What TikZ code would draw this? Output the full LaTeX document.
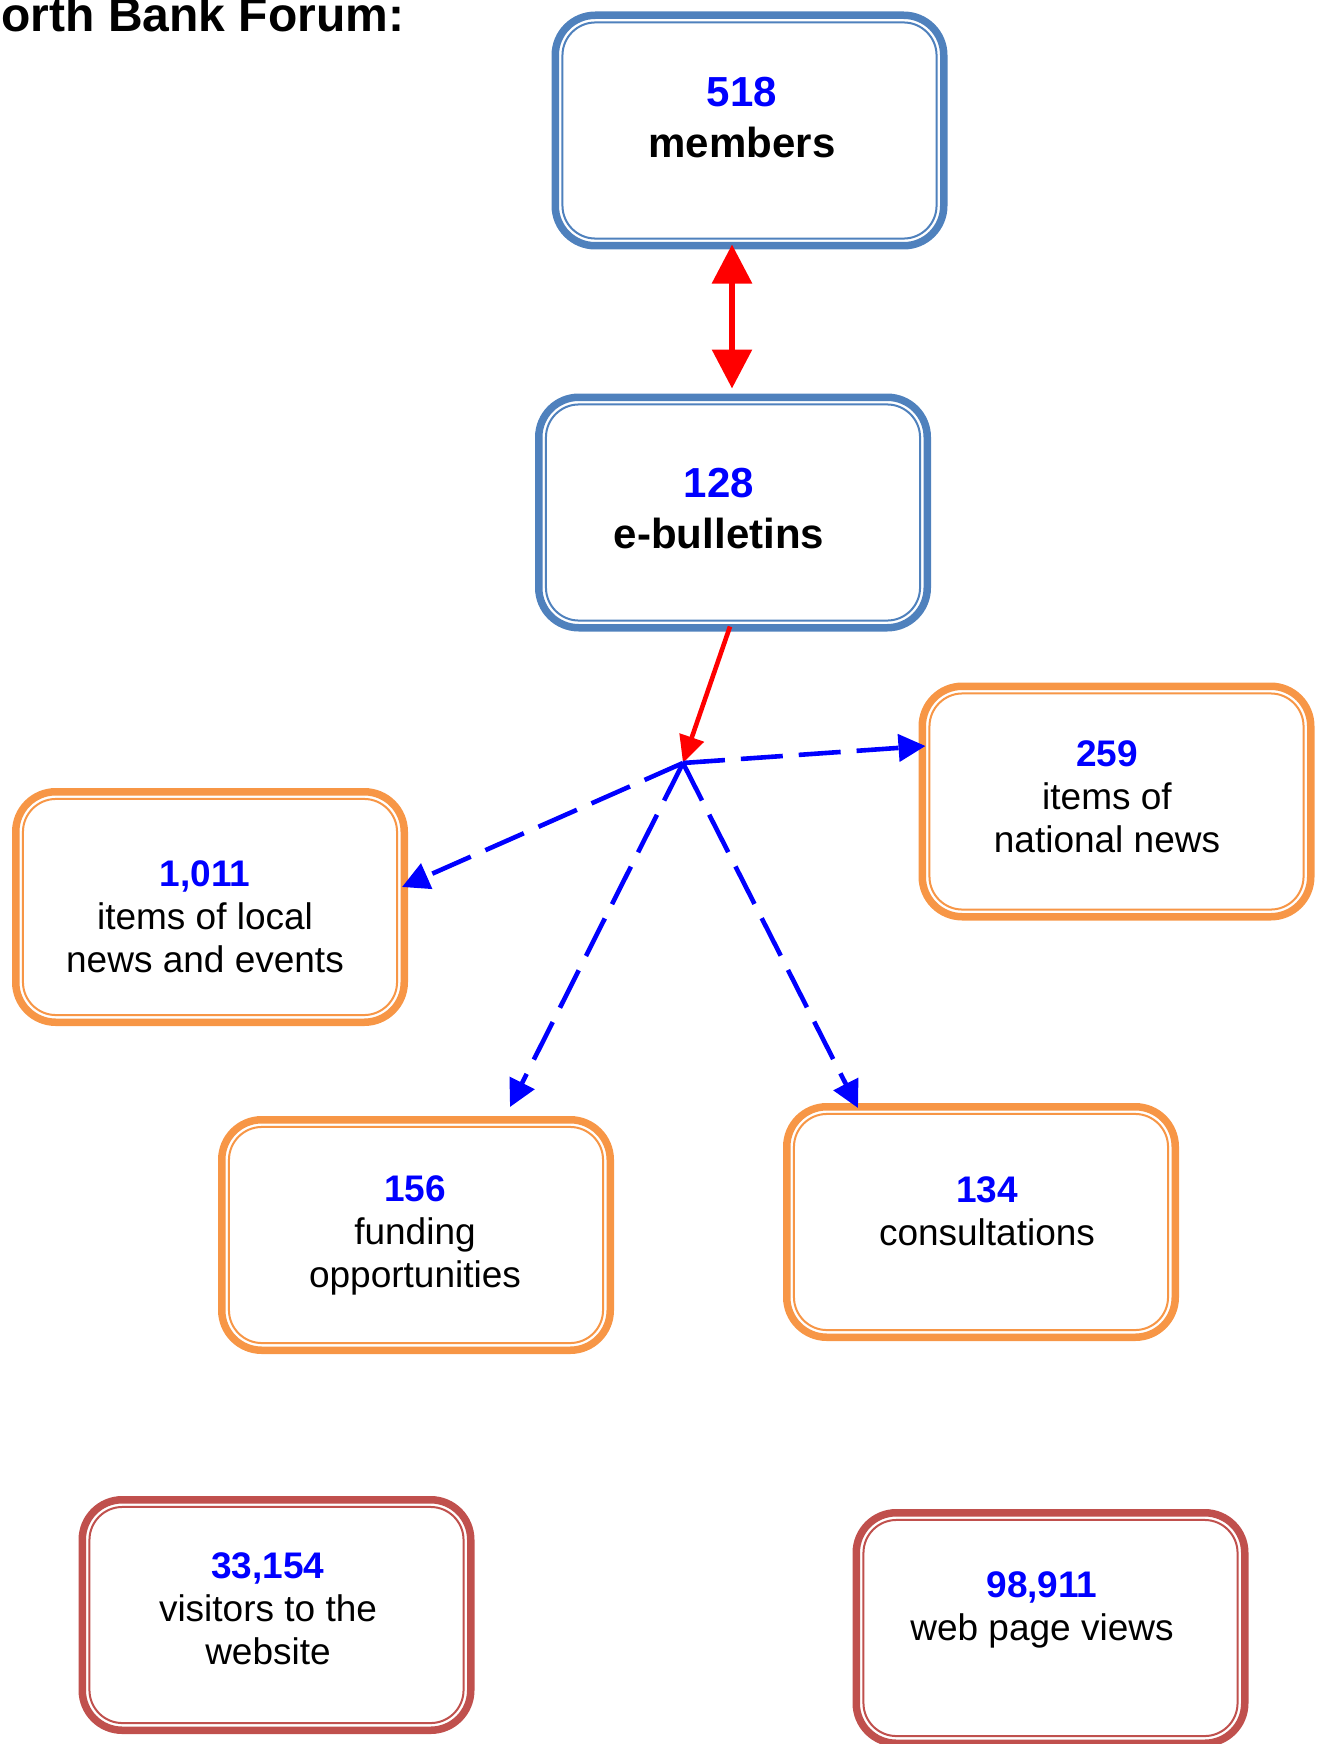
\documentclass[tikz,border=0pt]{standalone}
\usepackage{fontspec}
\setmainfont{Liberation Sans}
\usepackage{xcolor}
\usetikzlibrary{arrows.meta,calc}
\definecolor{accentblue}{RGB}{79,129,189}
\definecolor{accentorange}{RGB}{247,150,70}
\definecolor{accentred}{RGB}{192,80,77}
\definecolor{numblue}{RGB}{0,0,255}
\definecolor{arrowred}{RGB}{255,0,0}

\tikzset{
  statbox/.style={draw=#1, fill=white, line width=3.75pt, rounded corners=20pt,
    minimum width=194.25pt, minimum height=115.25pt, inner sep=0pt,
    path picture={\draw[#1, line width=1pt, rounded corners=16.5pt]
      ([shift={(3.6pt,3.6pt)}]path picture bounding box.south west) rectangle
      ([shift={(-3.6pt,-3.6pt)}]path picture bounding box.north east);}},
  bigtxt/.style={align=center, inner sep=0pt, font=\fontsize{21pt}{25.5pt}\selectfont\bfseries},
  smalltxt/.style={align=center, inner sep=0pt, font=\fontsize{18.5pt}{21.5pt}\selectfont},
  both/.style={draw=arrowred, line width=3pt, {Triangle[width=19.5pt,length=19.5pt]}-{Triangle[width=19.5pt,length=19.5pt]}},
  feed/.style={draw=arrowred, line width=2.3pt, -{Triangle[width=12.5pt,length=13.5pt]}},
  spread/.style={draw=numblue, line width=2.3pt, dash pattern=on 21pt off 8pt,
    -{Triangle[width=13.5pt,length=13.5pt]}}
}
\newcommand{\statnum}[1]{\textcolor{numblue}{\bfseries #1}}

\begin{document}
\begin{tikzpicture}[x=0.5pt, y=-0.5pt]
    \useasboundingbox (0,0) rectangle (1324,1744);

    % Title, cut by the page edge
    \node[anchor=base west, inner sep=0pt, font=\fontsize{24pt}{28pt}\selectfont\bfseries] (title) at (1,32) {orth Bank Forum:};

    % Members and e-bulletins
    \node[statbox=accentblue] (members) at (749.5,130.5) {};
    \node[bigtxt] (members-txt) at (742,117.5) {\statnum{518}\\members};
    \node[statbox=accentblue] (bulletins) at (733,512.5) {};
    \node[bigtxt] (bulletins-txt) at (719,509) {\statnum{128}\\e-bulletins};

    % Contents of the e-bulletins
    \node[statbox=accentorange] (local) at (210,907) {};
    \node[smalltxt] (local-txt) at (205,916.5) {\statnum{1,011}\\items of local\\news and events};
    \node[statbox=accentorange] (national) at (1116.5,801.5) {};
    \node[smalltxt] (national-txt) at (1107,796.5) {\statnum{259}\\items of\\national news};
    \node[statbox=accentorange] (funding) at (416,1235) {};
    \node[smalltxt] (funding-txt) at (415,1235.5) {\statnum{156}\\funding\\opportunities};
    \node[statbox=accentorange] (consult) at (981,1222) {};
    \node[smalltxt] (consult-txt) at (987,1211) {\statnum{134}\\consultations};

    % Website
    \node[statbox=accentred] (visitors) at (276.5,1615) {};
    \node[smalltxt] (visitors-txt) at (268,1608.5) {\statnum{33,154}\\visitors to the\\website};
    \node[statbox=accentred] (views) at (1050.5,1628) {};
    \node[smalltxt] (views-txt) at (1042,1609.5) {\statnum{98,911}\\web page views};

    % Arrows
    \coordinate (hub) at (683,763);
    \draw[both] ([xshift=-8.75pt,yshift=2.5pt]members.south) -- ([xshift=-0.5pt,yshift=2.5pt]bulletins.north);
    \draw[feed] ([xshift=-1.5pt,yshift=2.5pt]bulletins.south) -- (hub);
    \draw[spread] (hub) -- ([xshift=3.5pt,yshift=27.75pt]national.west);
    \draw[spread] (hub) -- ([xshift=-3pt,yshift=10pt]local.east);
    \draw[spread] (hub) -- ([xshift=47pt,yshift=4.5pt]funding.north);
    \draw[spread] (hub) -- ([xshift=-61.5pt,yshift=-2.5pt]consult.north);
\end{tikzpicture}
\end{document}
